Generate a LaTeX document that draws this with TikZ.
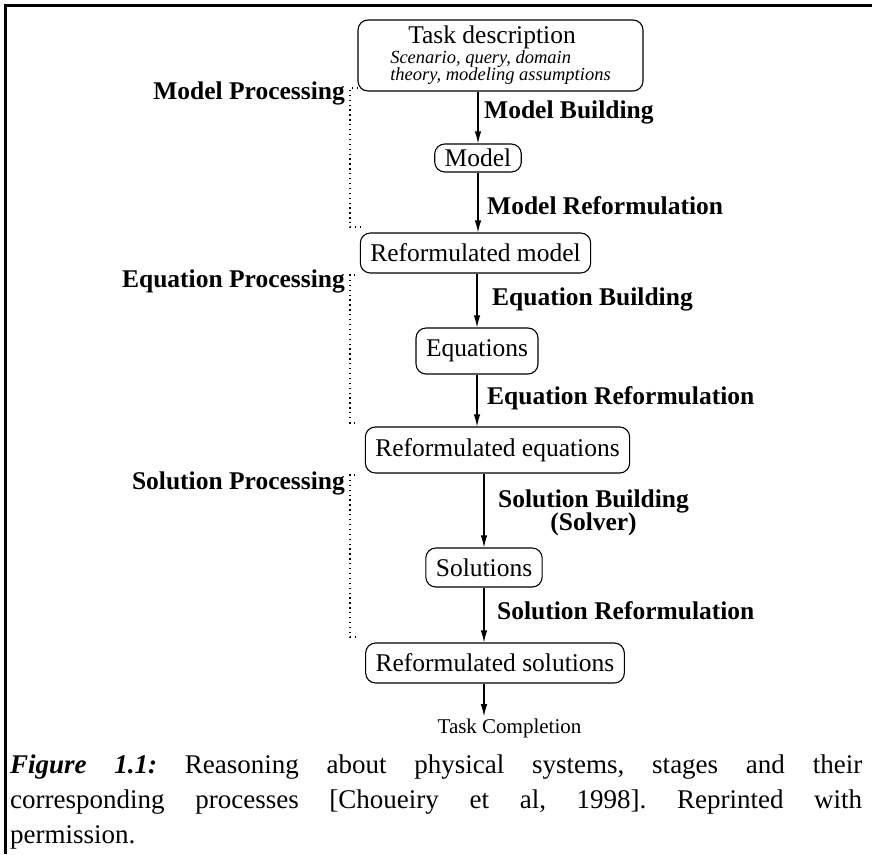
\documentclass[tikz,border=0pt]{standalone}
\usepackage{fontspec}
\setmainfont{Liberation Serif}
\usepackage{tikz}
\usetikzlibrary{arrows.meta}
\usetikzlibrary{positioning}
\newcommand{\stageFont}{\fontsize{25.5}{28}\selectfont}
\newcommand{\procBracket}[4]{%
		\draw [dotted, line width=1.2pt, dash pattern=on 1.3pt off 3.6pt] (#3,#1) -- (350,#1)
								     -- (350,#2)
								     -- (#4,#2);
}

\begin{document}
\frenchspacing
\begin{tikzpicture}[x=1pt, y=-1pt,
		stage/.style={draw, line width=1.1pt, rounded corners=10pt, inner xsep=10pt, inner ysep=0pt, font=\stageFont},
		flow/.style={-{Latex[length=12pt, width=6.5pt]}, line width=1.1pt},
		lbl/.style={font=\stageFont\bfseries, inner sep=0pt}]
	
		\useasboundingbox (0,0) rectangle (872,854);
		\draw [line width=2.2pt] (5.5,854) -- (5.5,5.5) -- (872,5.5);
		
		\node [stage, minimum width=285pt, minimum height=71pt, align=left,
			font={\fontsize{25.5}{17}\selectfont\lineskiplimit=-50pt}] (tdesc) at (500.5,55.5)
			{\hspace*{18pt}Task description\\[3pt]
			{\fontsize{18.5}{17}\selectfont\itshape Scenario, query, domain}\\
			{\fontsize{18.5}{17}\selectfont\itshape theory, modeling assumptions}};
		\node [stage, minimum height=28pt] (model) at (478,158) {Model};
		\node [stage, minimum height=40pt] (rmodel) at (475.5,253) {Reformulated model};
		\node [stage, minimum height=46pt] (eqs) at (477,351) {Equations};
		\node [stage, minimum height=46pt] (reqs) at (497.5,450) {Reformulated equations};
		\node [stage, minimum height=39pt] (sols) at (484,567.5) {Solutions};
		\node [stage, minimum height=40pt] (rsols) at (495,663) {Reformulated solutions};
		\node [font=\fontsize{21}{24}\selectfont, anchor=base, inner sep=2pt] (done) at (509.5,733) {Task Completion};
		
		\draw [flow] (tdesc.south -| model.north) -- (model.north);
		\draw [flow] (model) -- (rmodel.north -| model);
		\draw [flow] (rmodel.south -| eqs) -- (eqs);
		\draw [flow] (eqs) -- (reqs.north -| eqs);
		\draw [flow] (reqs.south -| sols) -- (sols);
		\draw [flow] (sols) -- (rsols.north -| sols);
		\draw [flow] (rsols.south -| sols) -- (done.north -| sols);
		
		\node [lbl, anchor=base west] (lbMB) at (484,118) {Model Building};
		\node [lbl, anchor=base west] (lbMR) at (487,214) {Model Reformulation};
		\node [lbl, anchor=base west] (lbEB) at (492,305) {Equation Building};
		\node [lbl, anchor=base west] (lbER) at (487,404) {Equation Reformulation};
		\node [lbl, anchor=base west] (lbSB) at (498,507) {Solution Building};
		\node [lbl, anchor=base] (lbSV) at ([yshift=-23pt]lbSB.base) {(Solver)};
		\node [lbl, anchor=base west] (lbSR) at (497,619) {Solution Reformulation};
		
		\node [lbl, anchor=base east] (lbMP) at (345,99) {Model Processing};
		\node [lbl, anchor=base east] (lbEP) at (345,287) {Equation Processing};
		\node [lbl, anchor=base east] (lbSP) at (345,489) {Solution Processing};
		
		\procBracket{88}{227}{358}{360} %model
		\procBracket{275}{423}{355}{355} %equation
		\procBracket{475}{637}{355}{355} %solution
		
		\node [anchor=north west, text width=852pt, align=justify, inner sep=0pt,
			font=\fontsize{27}{35}\selectfont] (capt) at (10,755)
			{\textbf{\textit{Figure 1.1:}} Reasoning about physical systems, stages and their\linebreak
			corresponding processes [Choueiry et al, 1998]. Reprinted with\linebreak permission.};
	\end{tikzpicture}
\end{document}
